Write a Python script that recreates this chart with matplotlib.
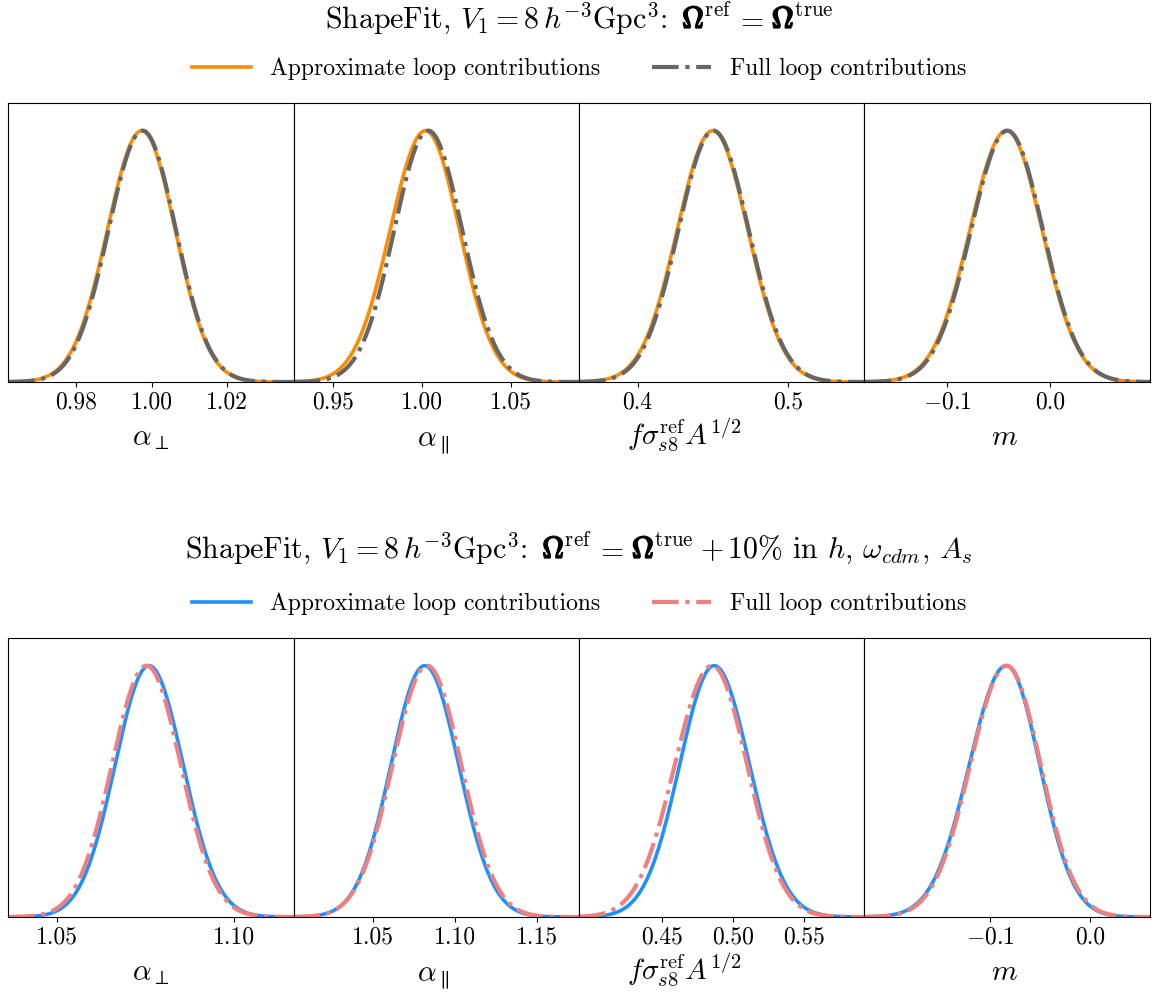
import numpy as np
import matplotlib
matplotlib.use("Agg")
import matplotlib.pyplot as plt
import matplotlib.patheffects as pe

plt.rcParams['font.family'] = 'serif'
plt.rcParams['font.serif'] = ['cmr10']
plt.rcParams['mathtext.fontset'] = 'cm'
plt.rcParams['axes.formatter.use_mathtext'] = True
plt.rcParams['axes.unicode_minus'] = True

# parametry (srednia, sigma z lewej, sigma z prawej)
labels = [r'$\alpha_\perp$', r'$\alpha_\parallel$',
          r'$f\sigma_{s8}^{\rm ref}A^{1/2}$', r'$m$']
label_x = [0.5, 0.49, 0.37, 0.49]

# wiersz 1: Omega_ref = Omega_true
top_mean_approx = [0.9974, 1.0020, 0.4500, -0.0420]
top_sl_approx = [0.0091, 0.0198, 0.0236, 0.0355]
top_sr_approx = [0.0088, 0.0190, 0.0233, 0.0345]
top_mean_full = [0.9976, 1.0035, 0.4505, -0.0412]
top_sl_full = [0.0090, 0.0190, 0.0233, 0.0352]
top_sr_full = [0.0088, 0.0190, 0.0234, 0.0345]
top_xlim = [(0.962, 1.0375), (0.928, 1.088), (0.361, 0.551), (-0.180, 0.0974)]
top_ticks = [[0.98, 1.00, 1.02], [0.95, 1.00, 1.05], [0.4, 0.5], [-0.1, 0.0]]
top_ticklabels = [['0.98', '1.00', '1.02'], ['0.95', '1.00', '1.05'],
                  ['0.4', '0.5'], [r'$-0.1$', '0.0']]

# wiersz 2: Omega_ref = Omega_true + 10%
bot_mean_approx = [1.0760, 1.0815, 0.4865, -0.0840]
bot_sl_approx = [0.0096, 0.0205, 0.0243, 0.0370]
bot_sr_approx = [0.0097, 0.0207, 0.0248, 0.0335]
bot_mean_full = [1.0753, 1.0830, 0.4850, -0.0835]
bot_sl_full = [0.0098, 0.0210, 0.0262, 0.0365]
bot_sr_full = [0.0097, 0.0208, 0.0246, 0.0340]
bot_xlim = [(1.036, 1.117), (1.0016, 1.1755), (0.3914, 0.5922), (-0.226, 0.060)]
bot_ticks = [[1.05, 1.10], [1.05, 1.10, 1.15], [0.45, 0.50, 0.55], [-0.1, 0.0]]
bot_ticklabels = [['1.05', '1.10'], ['1.05', '1.10', '1.15'],
                  ['0.45', '0.50', '0.55'], [r'$-0.1$', '0.0']]

title_start = r'ShapeFit, $V_1 = 8\,h^{-3}$Gpc$^3$:'
title_end_bot = r'$+\,10$% in $h$, $\omega_{cdm}$, $A_s$'


def split_gauss(x, mu, sl, sr):
    s = np.where(x < mu, sl, sr)
    return np.exp(-0.5 * ((x - mu) / s) ** 2)


fig = plt.figure(figsize=(11.58, 9.92), dpi=100)

rows = [
    dict(bottom=1 - 382 / 992, top=1 - 103 / 992,
         ma=top_mean_approx, sla=top_sl_approx, sra=top_sr_approx,
         mf=top_mean_full, slf=top_sl_full, srf=top_sr_full,
         xlim=top_xlim, ticks=top_ticks, tl=top_ticklabels,
         c1='darkorange', c2='#666666', tend=None,
         ty=1 - 28 / 992, ly=1 - 69 / 992),
    dict(bottom=1 - 917 / 992, top=1 - 638 / 992,
         ma=bot_mean_approx, sla=bot_sl_approx, sra=bot_sr_approx,
         mf=bot_mean_full, slf=bot_sl_full, srf=bot_sr_full,
         xlim=bot_xlim, ticks=bot_ticks, tl=bot_ticklabels,
         c1='dodgerblue', c2='lightcoral', tend=title_end_bot,
         ty=1 - 558 / 992, ly=1 - 604 / 992),
]

bold = [pe.withStroke(linewidth=1.1, foreground='black')]
titles = []
fs_title = 21.5

for r in rows:
    gs = fig.add_gridspec(1, 4, left=8 / 1158, right=1150 / 1158,
                          bottom=r['bottom'], top=r['top'], wspace=0)
    for i in range(4):
        ax = fig.add_subplot(gs[0, i])
        x = np.linspace(r['xlim'][i][0], r['xlim'][i][1], 600)
        l1, = ax.plot(x, split_gauss(x, r['ma'][i], r['sla'][i], r['sra'][i]),
                      color=r['c1'], lw=2.6, label='Approximate loop contributions')
        l2, = ax.plot(x, split_gauss(x, r['mf'][i], r['slf'][i], r['srf'][i]),
                      color=r['c2'], lw=3.0, ls='-.', label='Full loop contributions')
        ax.set_xlim(r['xlim'][i])
        ax.set_ylim(0, 1.11)
        ax.set_yticks([])
        ax.set_xticks(r['ticks'][i])
        ax.set_xticklabels(r['tl'][i], fontsize=17)
        lab = ax.set_xlabel(labels[i], fontsize=21)
        lab.set_va('baseline')
        ax.xaxis.set_label_coords(label_x[i], -0.226)

    # tytul skladany z kawalkow, zeby Omega byla pogrubiona
    t0 = fig.text(0.3, r['ty'], title_start, ha='left', va='baseline', fontsize=fs_title)
    prev = t0
    pieces = [(r'$\Omega^{\rm ref}$', True, 15), (r'$=$', False, 3),
              (r'$\Omega^{\rm true}$', True, 8)]
    if r['tend'] is not None:
        pieces.append((r['tend'], False, 7))
    for txt, is_bold, off in pieces:
        t = plt.annotate(txt, xy=(1, r['ty']), xycoords=(prev, 'figure fraction'),
                         xytext=(off, 0), textcoords='offset pixels',
                         ha='left', va='baseline', fontsize=fs_title)
        if is_bold:
            plt.annotate(r'$\Omega$', xy=(1, r['ty']), xycoords=(prev, 'figure fraction'),
                         xytext=(off, 0), textcoords='offset pixels',
                         ha='left', va='baseline', fontsize=fs_title, path_effects=bold)
        prev = t
    titles.append((t0, prev))

    fig.legend(handles=[l1, l2], loc='center', bbox_to_anchor=(0.5, r['ly']),
               ncol=2, frameon=False, fontsize=17, handlelength=2.5,
               handletextpad=0.8, columnspacing=2.2)

# wysrodkowanie tytulow
fig.canvas.draw()
rend = fig.canvas.get_renderer()
for t0, last in titles:
    x0 = t0.get_window_extent(rend).x0
    x1 = last.get_window_extent(rend).x1
    w = (x1 - x0) / fig.bbox.width
    t0.set_x(0.5 - w / 2)

plt.savefig('out.png', dpi=100)
